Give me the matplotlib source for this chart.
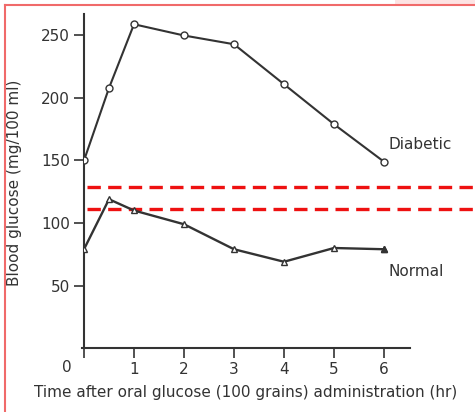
import matplotlib
matplotlib.use('Agg')
import matplotlib.pyplot as plt
from matplotlib.lines import Line2D
from matplotlib.patches import Rectangle

# Donnees
hours = [0, 0.5, 1, 2, 3, 4, 5, 6]
diabetic = [150, 208, 259, 250, 243, 211, 179, 149]
normal = [79, 119, 110, 99, 79, 69, 80, 79]
limits = [129, 111]
xtick_vals = [0, 1, 2, 3, 4, 5, 6]
ytick_vals = [50, 100, 150, 200, 250]

plt.rcParams['font.family'] = ['DejaVu Sans']
ink = '#333333'

W, H = 475, 412
fig = plt.figure(figsize=(W / 100, H / 100), dpi=100)
x0, y0 = 84, 348           # origine en pixels
px_x, px_y = 50.0, 1.25    # pixels par heure / par mg
ax = fig.add_axes([x0 / W, (H - y0) / H, (W - x0) / W, y0 / H])
ax.set_xlim(0, (W - x0) / px_x)
ax.set_ylim(0, y0 / px_y)

ax.plot(hours, diabetic, color=ink, lw=1.5, marker='o', ms=5,
        mfc='white', mec=ink, mew=1.0, zorder=3)
ax.plot(hours, normal, color=ink, lw=1.7, marker='^', ms=5,
        mfc='white', mec=ink, mew=1.0, zorder=3)
ax.plot(hours[-1:], normal[-1:], ls='none', marker='^', ms=5,
        color=ink, zorder=4)

for v in limits:
    ax.hlines(v, 0.06, ax.get_xlim()[1], colors='#ee1111', lw=2.4,
              linestyles=(0, (4, 2.2)), zorder=2)

for s in ['top', 'right']:
    ax.spines[s].set_visible(False)
ax.spines['left'].set_bounds(0, 267)
ax.spines['bottom'].set_bounds(-0.05, 6.52)
for s in ['left', 'bottom']:
    ax.spines[s].set_color(ink)
    ax.spines[s].set_linewidth(1.5)

ax.set_xticks(xtick_vals)
ax.set_xticklabels([''] + [str(v) for v in xtick_vals[1:]])
ax.set_yticks(ytick_vals)
ax.tick_params(axis='both', colors=ink, length=7, width=1.2,
               labelsize=11, labelcolor=ink, pad=3)
ax.text(-17 / px_x, -20 / px_y, '0', ha='center', va='center',
        fontsize=11, color=ink)

ax.set_xlabel('Time after oral glucose (100 grains) administration (hr)',
              fontsize=11, color=ink)
ax.xaxis.set_label_coords((246 - x0) / (W - x0), -(393 - y0) / y0)
ax.xaxis.label.set_va('center')
ax.set_ylabel('Blood glucose (mg/100 ml)', fontsize=11, color=ink)
ax.yaxis.set_label_coords(-(x0 - 15) / (W - x0), (y0 - 183) / y0)
ax.yaxis.label.set_va('center')

ax.text((388 - x0) / px_x, (y0 - 145) / px_y, 'Diabetic',
        fontsize=11, color=ink, va='center', ha='left')
ax.text((388 - x0) / px_x, (y0 - 272) / px_y, 'Normal',
        fontsize=11, color=ink, va='center', ha='left')

# cadre rouge (haut et gauche) + tache rose en haut a droite
fig.add_artist(Rectangle((395 / W, 1 - 5 / H), 80 / W, 5 / H,
                         transform=fig.transFigure, color='#fde3e3', lw=0))
fig.add_artist(Line2D([5 / W, 5 / W], [0, 1 - 5 / H], transform=fig.transFigure,
                      color='#f06a6a', lw=1.5))
fig.add_artist(Line2D([5 / W, 1], [1 - 5 / H, 1 - 5 / H], transform=fig.transFigure,
                      color='#f06a6a', lw=1.5))

fig.savefig('out.png', dpi=100)
plt.close(fig)
